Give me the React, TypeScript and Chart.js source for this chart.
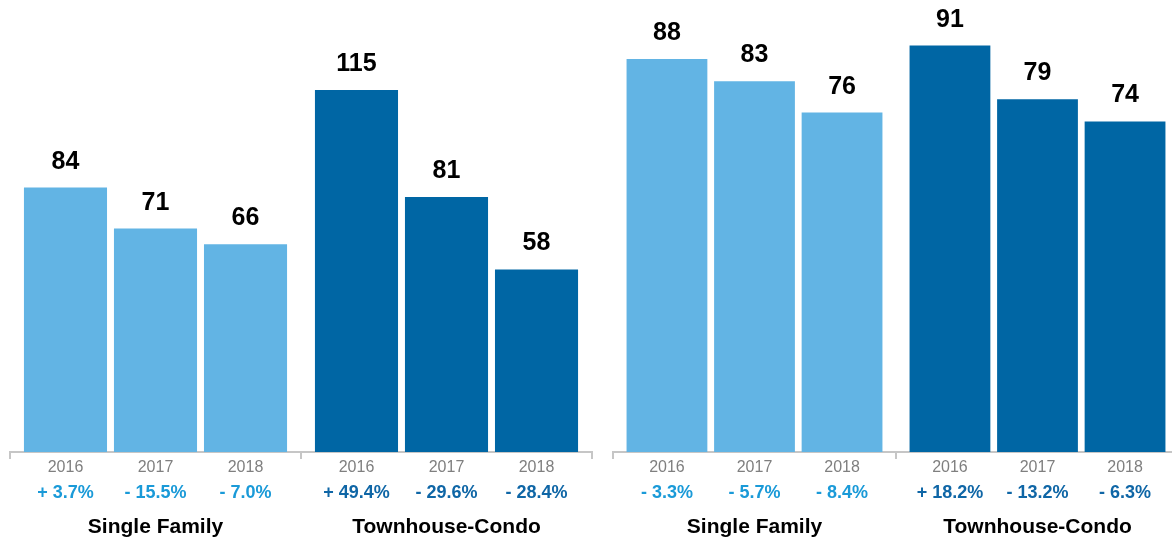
import React, { useEffect, useRef } from "react";
import { Chart, registerables } from "chart.js";

Chart.register(...registerables);

const categories = ["Single Family", "Townhouse-Condo"];
const years = ["2016", "2017", "2018"];

const leftSingleFamily = [84, 71, 66];
const leftTownhouse = [115, 81, 58];
const leftSingleFamilyChange = ["+ 3.7%", "- 15.5%", "- 7.0%"];
const leftTownhouseChange = ["+ 49.4%", "- 29.6%", "- 28.4%"];

const rightSingleFamily = [88, 83, 76];
const rightTownhouse = [91, 79, 74];
const rightSingleFamilyChange = ["- 3.3%", "- 5.7%", "- 8.4%"];
const rightTownhouseChange = ["+ 18.2%", "- 13.2%", "- 6.3%"];

const LIGHT = "#62b4e4";
const DARK = "#0066a4";
const LIGHT_TEXT = "#1a9ad8";
const DARK_TEXT = "#0f66a6";
const AXIS = "#c6c6c6";
const FONT = '"Liberation Sans", Arial, Helvetica, sans-serif';

type PanelProps = {
  sf: number[];
  tc: number[];
  sfChange: string[];
  tcChange: string[];
  yMax: number;
  left: number;
  width: number;
  padLeft: number;
  padRight: number;
};

function Panel(props: PanelProps) {
  const ref = useRef<HTMLCanvasElement | null>(null);
  useEffect(() => {
    if (!ref.current) return;
    const labelPlugin = {
      id: "labels",
      afterDraw(chart: any) {
        const ctx = chart.ctx;
        ctx.save();
        chart.data.datasets.forEach((ds: any, di: number) => {
          const meta = chart.getDatasetMeta(di);
          meta.data.forEach((bar: any, ci: number) => {
            const x = bar.x;
            ctx.textAlign = "center";
            ctx.textBaseline = "alphabetic";
            // value label
            ctx.font = `bold 25px ${FONT}`;
            ctx.fillStyle = "#000";
            ctx.fillText(String(ds.data[ci]), x, bar.y - 19);
            // year label
            ctx.font = `16px ${FONT}`;
            ctx.fillStyle = "#7f7f7f";
            ctx.fillText(years[di], x, 472);
            // change label
            const changes = ci === 0 ? props.sfChange : props.tcChange;
            ctx.font = `bold 18px ${FONT}`;
            ctx.fillStyle = ci === 0 ? LIGHT_TEXT : DARK_TEXT;
            ctx.fillText(changes[di], x, 498);
          });
        });
        const xs = chart.scales.x;
        ctx.font = `bold 21px ${FONT}`;
        ctx.fillStyle = "#000";
        categories.forEach((c, i) => {
          ctx.fillText(c, xs.getPixelForValue(i), 533);
        });
        ctx.restore();
      },
    };
    const datasets = years.map((y, i) => ({
      label: y,
      data: [props.sf[i], props.tc[i]],
      backgroundColor: [LIGHT, DARK],
      borderWidth: 0,
      categoryPercentage: 0.928,
      barPercentage: 0.923,
    }));
    const chart = new Chart(ref.current, {
      type: "bar",
      data: { labels: categories, datasets },
      options: {
        responsive: false,
        animation: false,
        layout: {
          padding: { left: props.padLeft, right: props.padRight, top: 0, bottom: 82 },
        },
        plugins: { legend: { display: false }, tooltip: { enabled: false } },
        scales: {
          x: {
            display: true,
            ticks: { display: false },
            grid: {
              display: true,
              offset: true,
              drawOnChartArea: false,
              drawTicks: true,
              tickLength: 7,
              color: AXIS,
              lineWidth: 2,
            },
            border: { display: true, color: AXIS, width: 2 },
          },
          y: { display: false, min: 0, max: props.yMax },
        },
      },
      plugins: [labelPlugin],
    });
    return () => chart.destroy();
  }, []);
  return (
    <canvas
      ref={ref}
      width={props.width}
      height={541}
      style={{ position: "absolute", left: props.left, top: 0, width: props.width, height: 541 }}
    />
  );
}

export default function App() {
  return (
    <div
      style={{
        position: "fixed",
        left: 0,
        top: 0,
        width: 1172,
        height: 541,
        overflow: "hidden",
        background: "#fff",
      }}
    >
      <Panel
        sf={leftSingleFamily}
        tc={leftTownhouse}
        sfChange={leftSingleFamilyChange}
        tcChange={leftTownhouseChange}
        yMax={143.6}
        left={0}
        width={600}
        padLeft={10}
        padRight={8}
      />
      <Panel
        sf={rightSingleFamily}
        tc={rightTownhouse}
        sfChange={rightSingleFamilyChange}
        tcChange={rightTownhouseChange}
        yMax={101.2}
        left={600}
        width={590}
        padLeft={13}
        padRight={11}
      />
    </div>
  );
}
